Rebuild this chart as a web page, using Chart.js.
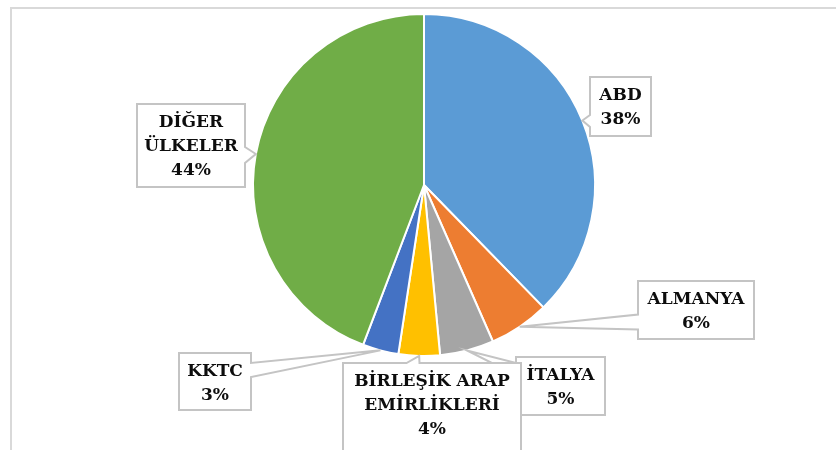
<!DOCTYPE html>
<html>
<head>
<meta charset="utf-8">
<script src="https://cdn.jsdelivr.net/npm/chart.js@4.4.0/dist/chart.umd.min.js"></script>
<style>
  body { margin: 0; background: #fff; overflow: hidden; }
  #wrap { position: absolute; left: 0; top: 0; width: 836px; height: 450px; }
</style>
</head>
<body>
<div id="wrap"><canvas id="pieChart"></canvas></div>
<script>
const countries = ['ABD', 'ALMANYA', 'İTALYA', 'BİRLEŞİK ARAP EMİRLİKLERİ', 'KKTC', 'DİĞER ÜLKELER'];
const shares = [37.7, 5.7, 5.1, 3.9, 3.4, 44.2];
const colors = ['#5B9BD5', '#ED7D31', '#A5A5A5', '#FFC000', '#4472C4', '#70AD47'];
// how each name is broken over lines in its label
const labelLines = [['ABD'], ['ALMANYA'], ['İTALYA'], ['BİRLEŞİK ARAP', 'EMİRLİKLERİ'], ['KKTC'], ['DİĞER', 'ÜLKELER']];

// callout boxes: where the box sits and which side its pointer leaves from
const boxes = [
    {x: 590, y: 77, w: 61, h: 59, side: 'left', at: 121, base: 12},
    {x: 638, y: 281, w: 116, h: 58, side: 'left', at: 322, base: 15},
    {x: 516, y: 357, w: 89, h: 58, side: 'left', at: 369, base: 12},
    {x: 343, y: 363, w: 178, h: 100, side: 'top', at: 413, base: 13},
    {x: 179, y: 353, w: 72, h: 57, side: 'right', at: 370, base: 14},
    {x: 137, y: 104, w: 108, h: 83, side: 'right', at: 155, base: 16}
];

// light grey frame of the chart object (only top and left edge are visible)
const framePlugin = {
    id: 'frame',
    beforeDraw(chart) {
        const ctx = chart.ctx;
        ctx.save();
        ctx.strokeStyle = '#d9d9d9';
        ctx.lineWidth = 2;
        ctx.beginPath();
        ctx.moveTo(11, 460);
        ctx.lineTo(11, 8);
        ctx.lineTo(840, 8);
        ctx.stroke();
        ctx.restore();
    }
};

const calloutPlugin = {
    id: 'callouts',
    afterDatasetsDraw(chart) {
        const ctx = chart.ctx;
        const meta = chart.getDatasetMeta(0);
        const total = shares.reduce((a, b) => a + b, 0);
        meta.data.forEach((arc, i) => {
            const p = arc.getProps(['x', 'y', 'startAngle', 'endAngle', 'outerRadius'], true);
            const mid = (p.startAngle + p.endAngle) / 2;
            const tx = p.x + Math.cos(mid) * p.outerRadius;
            const ty = p.y + Math.sin(mid) * p.outerRadius;
            const b = boxes[i];
            const h2 = b.base / 2;
            ctx.save();
            ctx.beginPath();
            if (b.side === 'left') {
                ctx.moveTo(b.x, b.y);
                ctx.lineTo(b.x + b.w, b.y);
                ctx.lineTo(b.x + b.w, b.y + b.h);
                ctx.lineTo(b.x, b.y + b.h);
                ctx.lineTo(b.x, b.at + h2);
                ctx.lineTo(tx, ty);
                ctx.lineTo(b.x, b.at - h2);
            } else if (b.side === 'right') {
                ctx.moveTo(b.x, b.y);
                ctx.lineTo(b.x + b.w, b.y);
                ctx.lineTo(b.x + b.w, b.at - h2);
                ctx.lineTo(tx, ty);
                ctx.lineTo(b.x + b.w, b.at + h2);
                ctx.lineTo(b.x + b.w, b.y + b.h);
                ctx.lineTo(b.x, b.y + b.h);
            } else {
                ctx.moveTo(b.x, b.y);
                ctx.lineTo(b.at - h2, b.y);
                ctx.lineTo(tx, ty);
                ctx.lineTo(b.at + h2, b.y);
                ctx.lineTo(b.x + b.w, b.y);
                ctx.lineTo(b.x + b.w, b.y + b.h);
                ctx.lineTo(b.x, b.y + b.h);
            }
            ctx.closePath();
            ctx.fillStyle = '#fff';
            ctx.fill();
            ctx.lineWidth = 2;
            ctx.strokeStyle = '#c4c4c4';
            ctx.stroke();

            const lines = labelLines[i].concat([Math.round(shares[i] / total * 100) + '%']);
            ctx.fillStyle = '#0d0d0d';
            ctx.font = 'bold 17px "DejaVu Serif"';
            ctx.textAlign = 'center';
            ctx.textBaseline = 'middle';
            lines.forEach((t, k) => {
                ctx.fillText(t, b.x + b.w / 2, b.y + 19 + k * 24);
            });
            ctx.restore();
        });
    }
};

const ctx = document.getElementById('pieChart').getContext('2d');
const pieChart = new Chart(ctx, {
    type: 'pie',
    data: {
        labels: countries,
        datasets: [{
            data: shares,
            backgroundColor: colors,
            borderColor: '#fff',
            borderWidth: 2,
            hoverOffset: 0
        }]
    },
    options: {
        responsive: true,
        maintainAspectRatio: false,
        animation: false,
        layout: { padding: { top: 13, bottom: 93, left: 12, right: 0 } },
        plugins: {
            legend: { display: false },
            tooltip: { enabled: false }
        }
    },
    plugins: [framePlugin, calloutPlugin]
});
</script>
</body>
</html>
